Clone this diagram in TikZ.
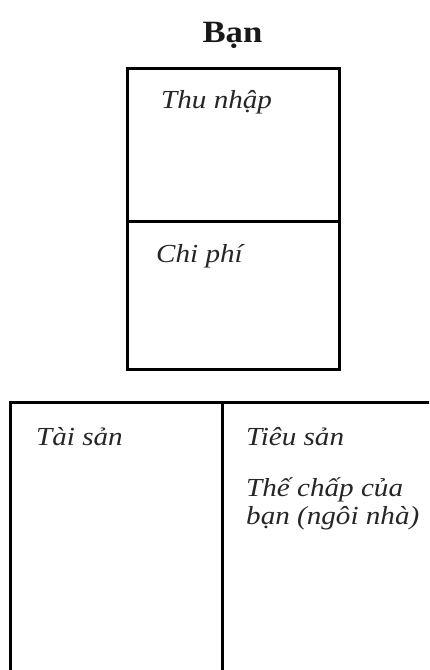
\documentclass[tikz,border=0pt]{standalone}
\usepackage{fontspec}
\setmainfont{Liberation Serif}[FakeStretch=1.12]
\begin{document}
\begin{tikzpicture}[x=1pt,y=-1pt,
  boxline/.style={draw=black,line width=3pt},
  lbl/.style={anchor=base west,inner sep=0pt,font=\fontsize{26}{28}\selectfont\itshape,text=black!85},
  ttl/.style={anchor=base,inner sep=0pt,font=\fontsize{31}{33}\selectfont\bfseries,text=black!90}]
\useasboundingbox (0,0) rectangle (429,670);
\clip (0,0) rectangle (429,670);
% top box
\draw[boxline] (127.5,68) rectangle (339,369);
\coordinate (dl) at (127.5,221);
\coordinate (dr) at (339,221);
\draw[boxline] (dl) -- (dr);
% bottom box
\draw[boxline] (10,402) rectangle (440,690);
\coordinate (vt) at (222,402);
\coordinate (vb) at (222,690);
\draw[boxline] (vt) -- (vb);
% texts
\node[ttl] (ban) at (232.5,42) {Bạn};
\node[lbl] (thu) at (161,108) {Thu nhập};
\node[lbl] (chi) at (156,262) {Chi phí};
\node[lbl] (tai) at (36,445) {Tài sản};
\node[lbl] (tieu) at (246,445) {Tiêu sản};
\node[lbl] (the) at (246,496) {Thế chấp của};
\node[lbl] (nha) at (246,524) {bạn (ngôi nhà)};
\end{tikzpicture}
\end{document}
